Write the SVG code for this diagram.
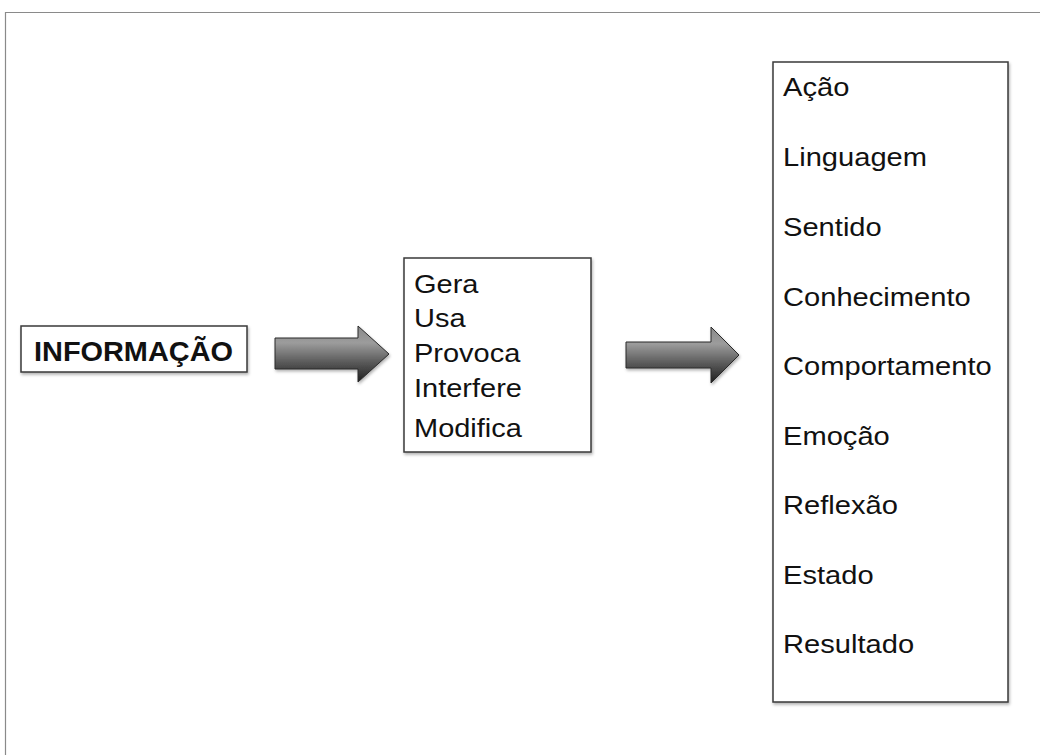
<svg xmlns="http://www.w3.org/2000/svg" width="1040" height="755" viewBox="0 0 1040 755">
<style>
.box{fill:#fff;stroke:#3a3a3a;stroke-width:1.5}
.t{font-family:"Liberation Sans",Arial,sans-serif;font-size:26px;fill:#111}
.tb{font-family:"Liberation Sans",Arial,sans-serif;font-size:28px;font-weight:bold;fill:#111}
.arrow{fill:url(#ag);stroke:#2a2a2a;stroke-width:1}
</style>
<defs>
<linearGradient id="ag" x1="0" y1="0" x2="0" y2="1">
<stop offset="0" stop-color="#8a8a8a"/>
<stop offset="0.3" stop-color="#9c9c9c"/>
<stop offset="0.65" stop-color="#5a5a5a"/>
<stop offset="1" stop-color="#1e1e1e"/>
</linearGradient>
<filter id="sh" x="-10%" y="-10%" width="130%" height="130%">
<feDropShadow dx="1" dy="2" stdDeviation="1.5" flood-color="#000" flood-opacity="0.3"/>
</filter>
</defs>
<rect x="0" y="0" width="1040" height="755" fill="#fff"/>
<g id="slide-frame">
<path d="M5.5 755 V12.5 H1040" fill="none" stroke="#8a8a8a" stroke-width="1.2"/>
</g>
<g id="connectors">
<path class="arrow" filter="url(#sh)" d="M275 338 H358 V326 L389 354 L358 382 V369 H275 Z"/>
<path class="arrow" filter="url(#sh)" d="M626 342 H711 V327 L739 355 L711 383 V368 H626 Z"/>
</g>
<g id="informacao">
<rect class="box" x="21" y="326" width="226" height="46" filter="url(#sh)"/>
<text class="tb" x="34" y="361" textLength="199" lengthAdjust="spacingAndGlyphs">INFORMAÇÃO</text>
</g>
<g id="acoes">
<rect class="box" x="404" y="258" width="187" height="194" filter="url(#sh)"/>
<g transform="translate(414 0) scale(1.115 1)">
<text class="t" x="0" y="293">Gera</text>
<text class="t" x="0" y="327">Usa</text>
<text class="t" x="0" y="362">Provoca</text>
<text class="t" x="0" y="397">Interfere</text>
<text class="t" x="0" y="437">Modifica</text>
</g>
</g>
<g id="resultados">
<rect class="box" x="773" y="62" width="235" height="640" filter="url(#sh)"/>
<g transform="translate(783 0) scale(1.12 1)">
<text class="t" x="0" y="96">Ação</text>
<text class="t" x="0" y="166">Linguagem</text>
<text class="t" x="0" y="236">Sentido</text>
<text class="t" x="0" y="306">Conhecimento</text>
<text class="t" x="0" y="375">Comportamento</text>
<text class="t" x="0" y="445">Emoção</text>
<text class="t" x="0" y="514">Reflexão</text>
<text class="t" x="0" y="584">Estado</text>
<text class="t" x="0" y="653">Resultado</text>
</g>
</g>
</svg>
